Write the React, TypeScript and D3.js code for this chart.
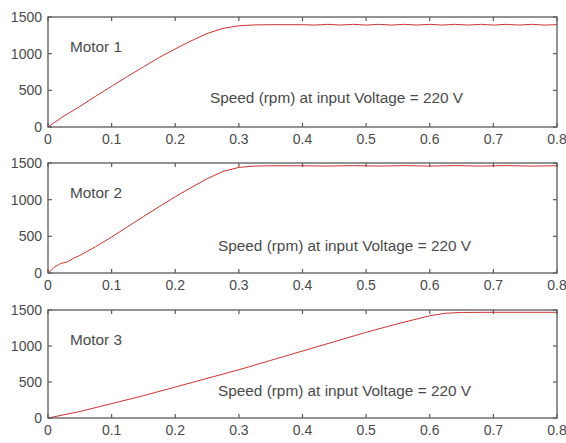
import { useEffect, useRef } from 'react';
import * as d3 from 'd3';

// time axis ticks and rpm ticks
const xTicks = [0, 0.1, 0.2, 0.3, 0.4, 0.5, 0.6, 0.7, 0.8];
const yTicks = [0, 500, 1000, 1500];
const motorNames = ['Motor 1', 'Motor 2', 'Motor 3'];
const note = 'Speed (rpm) at input Voltage = 220 V';

// speed curves (time s, rpm)
const motor1T = [0, 0.01, 0.025, 0.05, 0.075, 0.1, 0.125, 0.15, 0.175, 0.2, 0.225, 0.25, 0.275, 0.3, 0.325, 0.35, 0.4,
  0.42, 0.44, 0.46, 0.48, 0.5, 0.52, 0.54, 0.56, 0.58, 0.6, 0.62, 0.64, 0.66, 0.68, 0.7, 0.72, 0.74, 0.76, 0.78, 0.8];
const motor1V = [0, 60, 150, 280, 420, 555, 690, 820, 950, 1065, 1175, 1275, 1345, 1380, 1392, 1395, 1395,
  1390, 1400, 1390, 1400, 1390, 1400, 1390, 1400, 1390, 1400, 1390, 1400, 1390, 1400, 1390, 1400, 1390, 1400, 1390, 1395];

const motor2T = [0, 0.01, 0.02, 0.03, 0.04, 0.05, 0.075, 0.1, 0.125, 0.15, 0.175, 0.2, 0.225, 0.25, 0.275, 0.3, 0.325, 0.35,
  0.4, 0.44, 0.48, 0.52, 0.56, 0.6, 0.64, 0.68, 0.72, 0.76, 0.8];
const motor2V = [0, 80, 130, 150, 200, 240, 360, 490, 630, 770, 905, 1040, 1165, 1285, 1385, 1440, 1458, 1462,
  1462, 1458, 1464, 1458, 1464, 1458, 1464, 1458, 1464, 1458, 1462];

const motor3T = [0, 0.05, 0.1, 0.15, 0.2, 0.25, 0.3, 0.35, 0.4, 0.45, 0.5, 0.55, 0.6, 0.625, 0.65, 0.7, 0.75, 0.8];
const motor3V = [0, 90, 200, 310, 430, 550, 670, 800, 930, 1060, 1190, 1310, 1420, 1455, 1466, 1468, 1468, 1468];

const series = [
  { t: motor1T, v: motor1V },
  { t: motor2T, v: motor2V },
  { t: motor3T, v: motor3V },
];

export default function App() {
  const svgRef = useRef<SVGSVGElement>(null);

  useEffect(() => {
    if (!svgRef.current) return;
    const svg = d3.select(svgRef.current);
    svg.selectAll('*').remove();

    const left = 48;
    const right = 557;
    const tops = [17, 163, 310];
    const heights = [110, 110, 108];
    const font = 'Liberation Sans, Arial, sans-serif';
    const axisColor = '#5a5a5a';
    const textColor = '#4a4a4a';

    const x = d3.scaleLinear().domain([0, 0.8]).range([left, right]);

    series.forEach((s, i) => {
      const top = tops[i];
      const bottom = top + heights[i];
      const y = d3.scaleLinear().domain([0, 1500]).range([bottom, top]);
      const g = svg.append('g');

      // curve
      const line = d3.line<number>()
        .x((_, k) => x(s.t[k]))
        .y((d) => y(d));
      g.append('path')
        .attr('d', line(s.v) as string)
        .attr('fill', 'none')
        .attr('stroke', '#cc3333')
        .attr('stroke-width', 1);

      // frame
      g.append('rect')
        .attr('x', left).attr('y', top)
        .attr('width', right - left).attr('height', bottom - top)
        .attr('fill', 'none')
        .attr('stroke', axisColor)
        .attr('stroke-width', 1.3);

      // x ticks, inside top and bottom
      xTicks.forEach((t) => {
        const px = x(t);
        g.append('line').attr('x1', px).attr('x2', px).attr('y1', bottom).attr('y2', bottom - 4)
          .attr('stroke', axisColor).attr('stroke-width', 1.2);
        g.append('line').attr('x1', px).attr('x2', px).attr('y1', top).attr('y2', top + 4)
          .attr('stroke', axisColor).attr('stroke-width', 1.2);
        g.append('text')
          .attr('x', px).attr('y', bottom + 17)
          .attr('text-anchor', 'middle')
          .attr('font-family', font).attr('font-size', 14)
          .attr('fill', textColor)
          .text(String(t));
      });

      // y ticks, inside left and right
      yTicks.forEach((v) => {
        const py = y(v);
        g.append('line').attr('x1', left).attr('x2', left + 4).attr('y1', py).attr('y2', py)
          .attr('stroke', axisColor).attr('stroke-width', 1.2);
        g.append('line').attr('x1', right).attr('x2', right - 4).attr('y1', py).attr('y2', py)
          .attr('stroke', axisColor).attr('stroke-width', 1.2);
        g.append('text')
          .attr('x', left - 6).attr('y', py + 5)
          .attr('text-anchor', 'end')
          .attr('font-family', font).attr('font-size', 14)
          .attr('fill', textColor)
          .text(String(v));
      });

      g.append('text')
        .attr('x', 70).attr('y', top + 35)
        .attr('font-family', font).attr('font-size', 14)
        .attr('textLength', 52)
        .attr('lengthAdjust', 'spacingAndGlyphs')
        .attr('fill', textColor)
        .text(motorNames[i]);

      g.append('text')
        .attr('x', i === 0 ? 210 : 218).attr('y', bottom - (i === 0 ? 24 : 22))
        .attr('font-family', font).attr('font-size', 14)
        .attr('textLength', 253)
        .attr('lengthAdjust', 'spacingAndGlyphs')
        .attr('fill', textColor)
        .text(note);
    });
  }, []);

  return (
    <svg
      ref={svgRef}
      width={566}
      height={443}
      style={{ position: 'absolute', left: 0, top: 0, background: '#fff' }}
    />
  );
}
